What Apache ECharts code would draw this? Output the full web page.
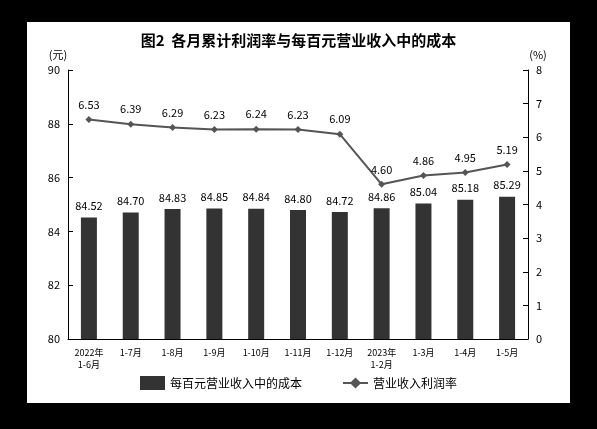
<!DOCTYPE html>
<html><head><meta charset="utf-8">
<script src="https://cdn.jsdelivr.net/npm/echarts@6/dist/echarts.min.js"></script>
<style>
body{margin:0;background:#000;}
#wrap{position:absolute;left:0;top:0;width:597px;height:429px;background:#000;}
#c{position:absolute;left:27px;top:22px;width:543px;height:381px;background:#fff;}
</style></head>
<body><div id="wrap"><div id="c"></div></div>
<script>
const categories = ["2022年\n1-6月","1-7月","1-8月","1-9月","1-10月","1-11月","1-12月","2023年\n1-2月","1-3月","1-4月","1-5月"];
const costValues = [84.52,84.70,84.83,84.85,84.84,84.80,84.72,84.86,85.04,85.18,85.29];
const profitRate = [6.53,6.39,6.29,6.23,6.24,6.23,6.09,4.60,4.86,4.95,5.19];
const leftTicks = [80,82,84,86,88,90];
const rightTicks = [0,1,2,3,4,5,6,7,8];
const f = "'Noto Sans CJK SC', sans-serif";
const chart = echarts.init(document.getElementById('c'));
chart.setOption({
  animation:false,
  textStyle:{fontFamily:f},
  title:{text:'图2  各月累计利润率与每百元营业收入中的成本',left:'center',top:6,
    textStyle:{fontSize:15,fontWeight:'bold',color:'#000',fontFamily:f}},
  legend:{bottom:8,itemGap:40,textStyle:{fontSize:12,color:'#000'},
    data:[{name:'每百元营业收入中的成本',icon:'rect'},{name:'营业收入利润率'}]},
  grid:{left:41,right:42,top:48,bottom:64},
  xAxis:{type:'category',data:categories,
    axisLine:{lineStyle:{color:'#000'}},axisTick:{show:false},
    axisLabel:{fontSize:9,color:'#000',interval:0,lineHeight:12}},
  yAxis:[
    {type:'value',min:leftTicks[0],max:leftTicks[leftTicks.length-1],interval:2,
     name:'(元)',nameGap:10,nameTextStyle:{fontSize:11,color:'#000',padding:[0,20,0,0]},
     axisLine:{show:true,lineStyle:{color:'#000'}},axisTick:{show:true,inside:true},
     splitLine:{show:false},axisLabel:{fontSize:11,color:'#000'}},
    {type:'value',min:rightTicks[0],max:rightTicks[rightTicks.length-1],interval:1,
     name:'(%)',nameGap:10,nameTextStyle:{fontSize:11,color:'#000',padding:[0,0,0,20]},
     axisLine:{show:true,lineStyle:{color:'#000'}},axisTick:{show:true,inside:true},
     splitLine:{show:false},axisLabel:{fontSize:11,color:'#000'}}
  ],
  series:[
    {name:'每百元营业收入中的成本',type:'bar',data:costValues,barWidth:16,
     itemStyle:{color:'#333'},
     label:{show:true,position:'top',distance:6,fontSize:11,color:'#000',formatter:p=>p.value.toFixed(2)}},
    {name:'营业收入利润率',type:'line',yAxisIndex:1,data:profitRate,
     symbol:'diamond',symbolSize:7,lineStyle:{color:'#555',width:2},itemStyle:{color:'#555'},
     label:{show:true,position:'top',distance:6,fontSize:11,color:'#000',formatter:p=>p.value.toFixed(2)}}
  ]
});
</script></body></html>
